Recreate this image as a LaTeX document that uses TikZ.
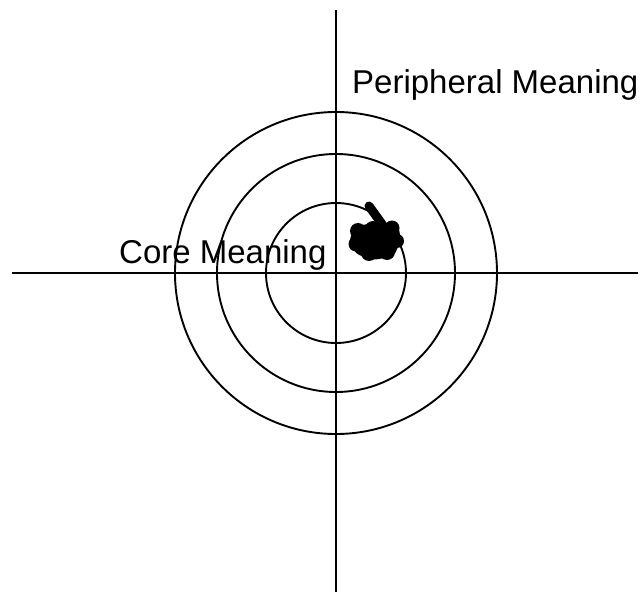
\documentclass[tikz,border=0pt]{standalone}
\usepackage{fontspec}
\setmainfont{Liberation Sans}
\begin{document}
\begin{tikzpicture}[x=1pt,y=-1pt]
  % frame of the picture
  \useasboundingbox (0,0) rectangle (641,597);

  % Centre and axis ends
  \coordinate (O) at (336,273);
  \coordinate (W) at (12,273);
  \coordinate (E) at (638,273);
  \coordinate (N) at (336,10);
  \coordinate (S) at (336,592);

  % Axes
  \draw[line width=2pt] (W) -- (E);
  \draw[line width=2pt] (N) -- (S);

  % Rings
  \draw[line width=1.9pt] (O) circle (70);
  \draw[line width=1.9pt] (O) circle (119);
  \draw[line width=1.9pt] (O) circle (161);

  % Cluster of meanings
  \fill[black,rounded corners=4pt] (356,226) -- (380,222) -- (398,224) -- (401,240)
    -- (394,256) -- (374,260) -- (356,254) -- (349,240) -- cycle;
  \draw[black,line width=9pt,line cap=round] (369,206) -- (382,224);
  \fill[black] (358,231) circle (8) (373,229) circle (8) (392,228) circle (7.5)
    (397,241) circle (7) (387,252) circle (8) (369,253) circle (8)
    (356,244) circle (7.5) (376,241) circle (10);

  % Labels
  \node[anchor=base west,inner sep=0pt,font=\fontsize{33}{36}\selectfont] (core)
    at (119,263) {Core Meaning};
  \node[anchor=base west,inner sep=0pt,font=\fontsize{33}{36}\selectfont] (periph)
    at (352,93) {Peripheral Meaning};
\end{tikzpicture}
\end{document}
